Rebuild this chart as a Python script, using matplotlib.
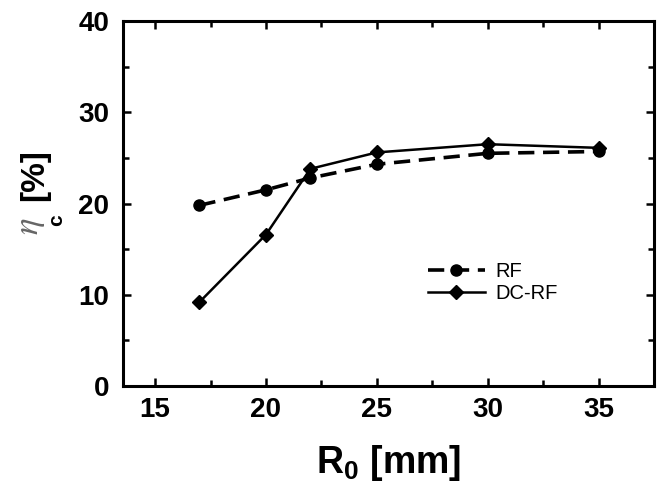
import matplotlib
matplotlib.use('Agg')
import matplotlib.pyplot as plt
from matplotlib.ticker import MultipleLocator

# data
r0 = [17, 20, 22, 25, 30, 35]
eta_rf = [19.8, 21.5, 22.8, 24.3, 25.5, 25.7]
eta_dcrf = [9.2, 16.6, 23.8, 25.6, 26.5, 26.1]
labels = ['RF', 'DC-RF']

plt.rcParams['font.family'] = 'Liberation Sans'
plt.rcParams['mathtext.fontset'] = 'custom'
plt.rcParams['mathtext.bf'] = 'Liberation Sans:bold'
plt.rcParams['mathtext.rm'] = 'Liberation Sans'

fig = plt.figure(figsize=(6.67, 4.83), dpi=100)
ax = fig.add_axes([0.1844, 0.2008, 0.7961, 0.7557])

ax.plot(r0, eta_rf, color='black', lw=2.6, ls=(0, (4.5, 2.4)),
        marker='o', ms=8, label=labels[0])
ax.plot(r0, eta_dcrf, color='black', lw=1.8, ls='-',
        marker='D', ms=7.5, label=labels[1])

ax.set_xlim(13.55, 37.5)
ax.set_ylim(0, 40)
ax.xaxis.set_major_locator(MultipleLocator(5))
ax.xaxis.set_minor_locator(MultipleLocator(2.5))
ax.yaxis.set_major_locator(MultipleLocator(10))
ax.yaxis.set_minor_locator(MultipleLocator(5))

for s in ax.spines.values():
    s.set_linewidth(2.2)
ax.tick_params(which='both', direction='in', top=True, right=True, width=1.8)
ax.tick_params(which='major', length=5.5)
ax.tick_params(which='minor', length=4)
ax.tick_params(axis='x', which='major', pad=8)
ax.tick_params(axis='y', which='major', pad=10)
for lab in ax.get_xticklabels() + ax.get_yticklabels():
    lab.set_fontsize(20)
    lab.set_fontweight('bold')

ax.set_xlabel(r'R$_{\mathbf{0}}$ [mm]', fontsize=27, fontweight='bold', labelpad=14)

# y label: grey eta, bold subscript c and bold [%]
fig.text(0.046, 0.532, r'$\eta$', rotation=90, fontsize=25, color='0.4',
         math_fontfamily='stix', ha='center', va='center')
fig.text(0.085, 0.545, 'c', rotation=90, fontsize=15, fontweight='bold',
         ha='center', va='center')
fig.text(0.052, 0.638, '[%]', rotation=90, fontsize=24, fontweight='bold',
         ha='center', va='center')

ax.legend(loc='center left', bbox_to_anchor=(0.556, 0.284), frameon=False,
          fontsize=14.5, handlelength=2.8, handletextpad=0.55, labelspacing=0.15,
          borderpad=0)

fig.savefig('out.png', dpi=100)
